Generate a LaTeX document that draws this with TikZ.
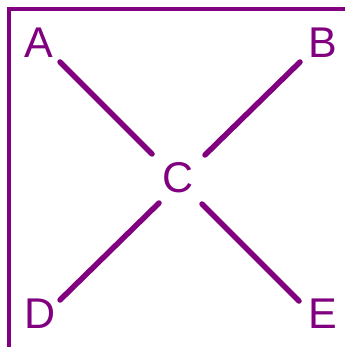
\documentclass[tikz,border=0pt]{standalone}
\usepackage{fontspec}
\setmainfont{Liberation Sans}
\definecolor{pur}{HTML}{800080}
\begin{document}
\begin{tikzpicture}[x=1pt,y=-1pt,
  lbl/.style={text=pur,font=\fontsize{43}{43}\selectfont,inner sep=0pt,anchor=center},
  conn/.style={draw=pur,line width=5.5pt,line cap=round},
  frame/.style={draw=pur,line width=4pt}]
\useasboundingbox (0,0) rectangle (345,347);
\draw[frame] (9,347) -- (9,9) -- (345,9);
\node[lbl] (A) at (39,43) {A};
\node[lbl] (B) at (323,43) {B};
\node[lbl] (C) at (178,178) {C};
\node[lbl] (D) at (40,314) {D};
\node[lbl] (E) at (323,314) {E};
\coordinate (a1) at (60,62);
\coordinate (a2) at (152,154);
\coordinate (b1) at (300,62);
\coordinate (b2) at (205,155);
\coordinate (d1) at (60,300);
\coordinate (d2) at (159,203);
\coordinate (e1) at (299,301);
\coordinate (e2) at (202,204);
\draw[conn] (a1) -- (a2);
\draw[conn] (b1) -- (b2);
\draw[conn] (d1) -- (d2);
\draw[conn] (e1) -- (e2);
\end{tikzpicture}
\end{document}
